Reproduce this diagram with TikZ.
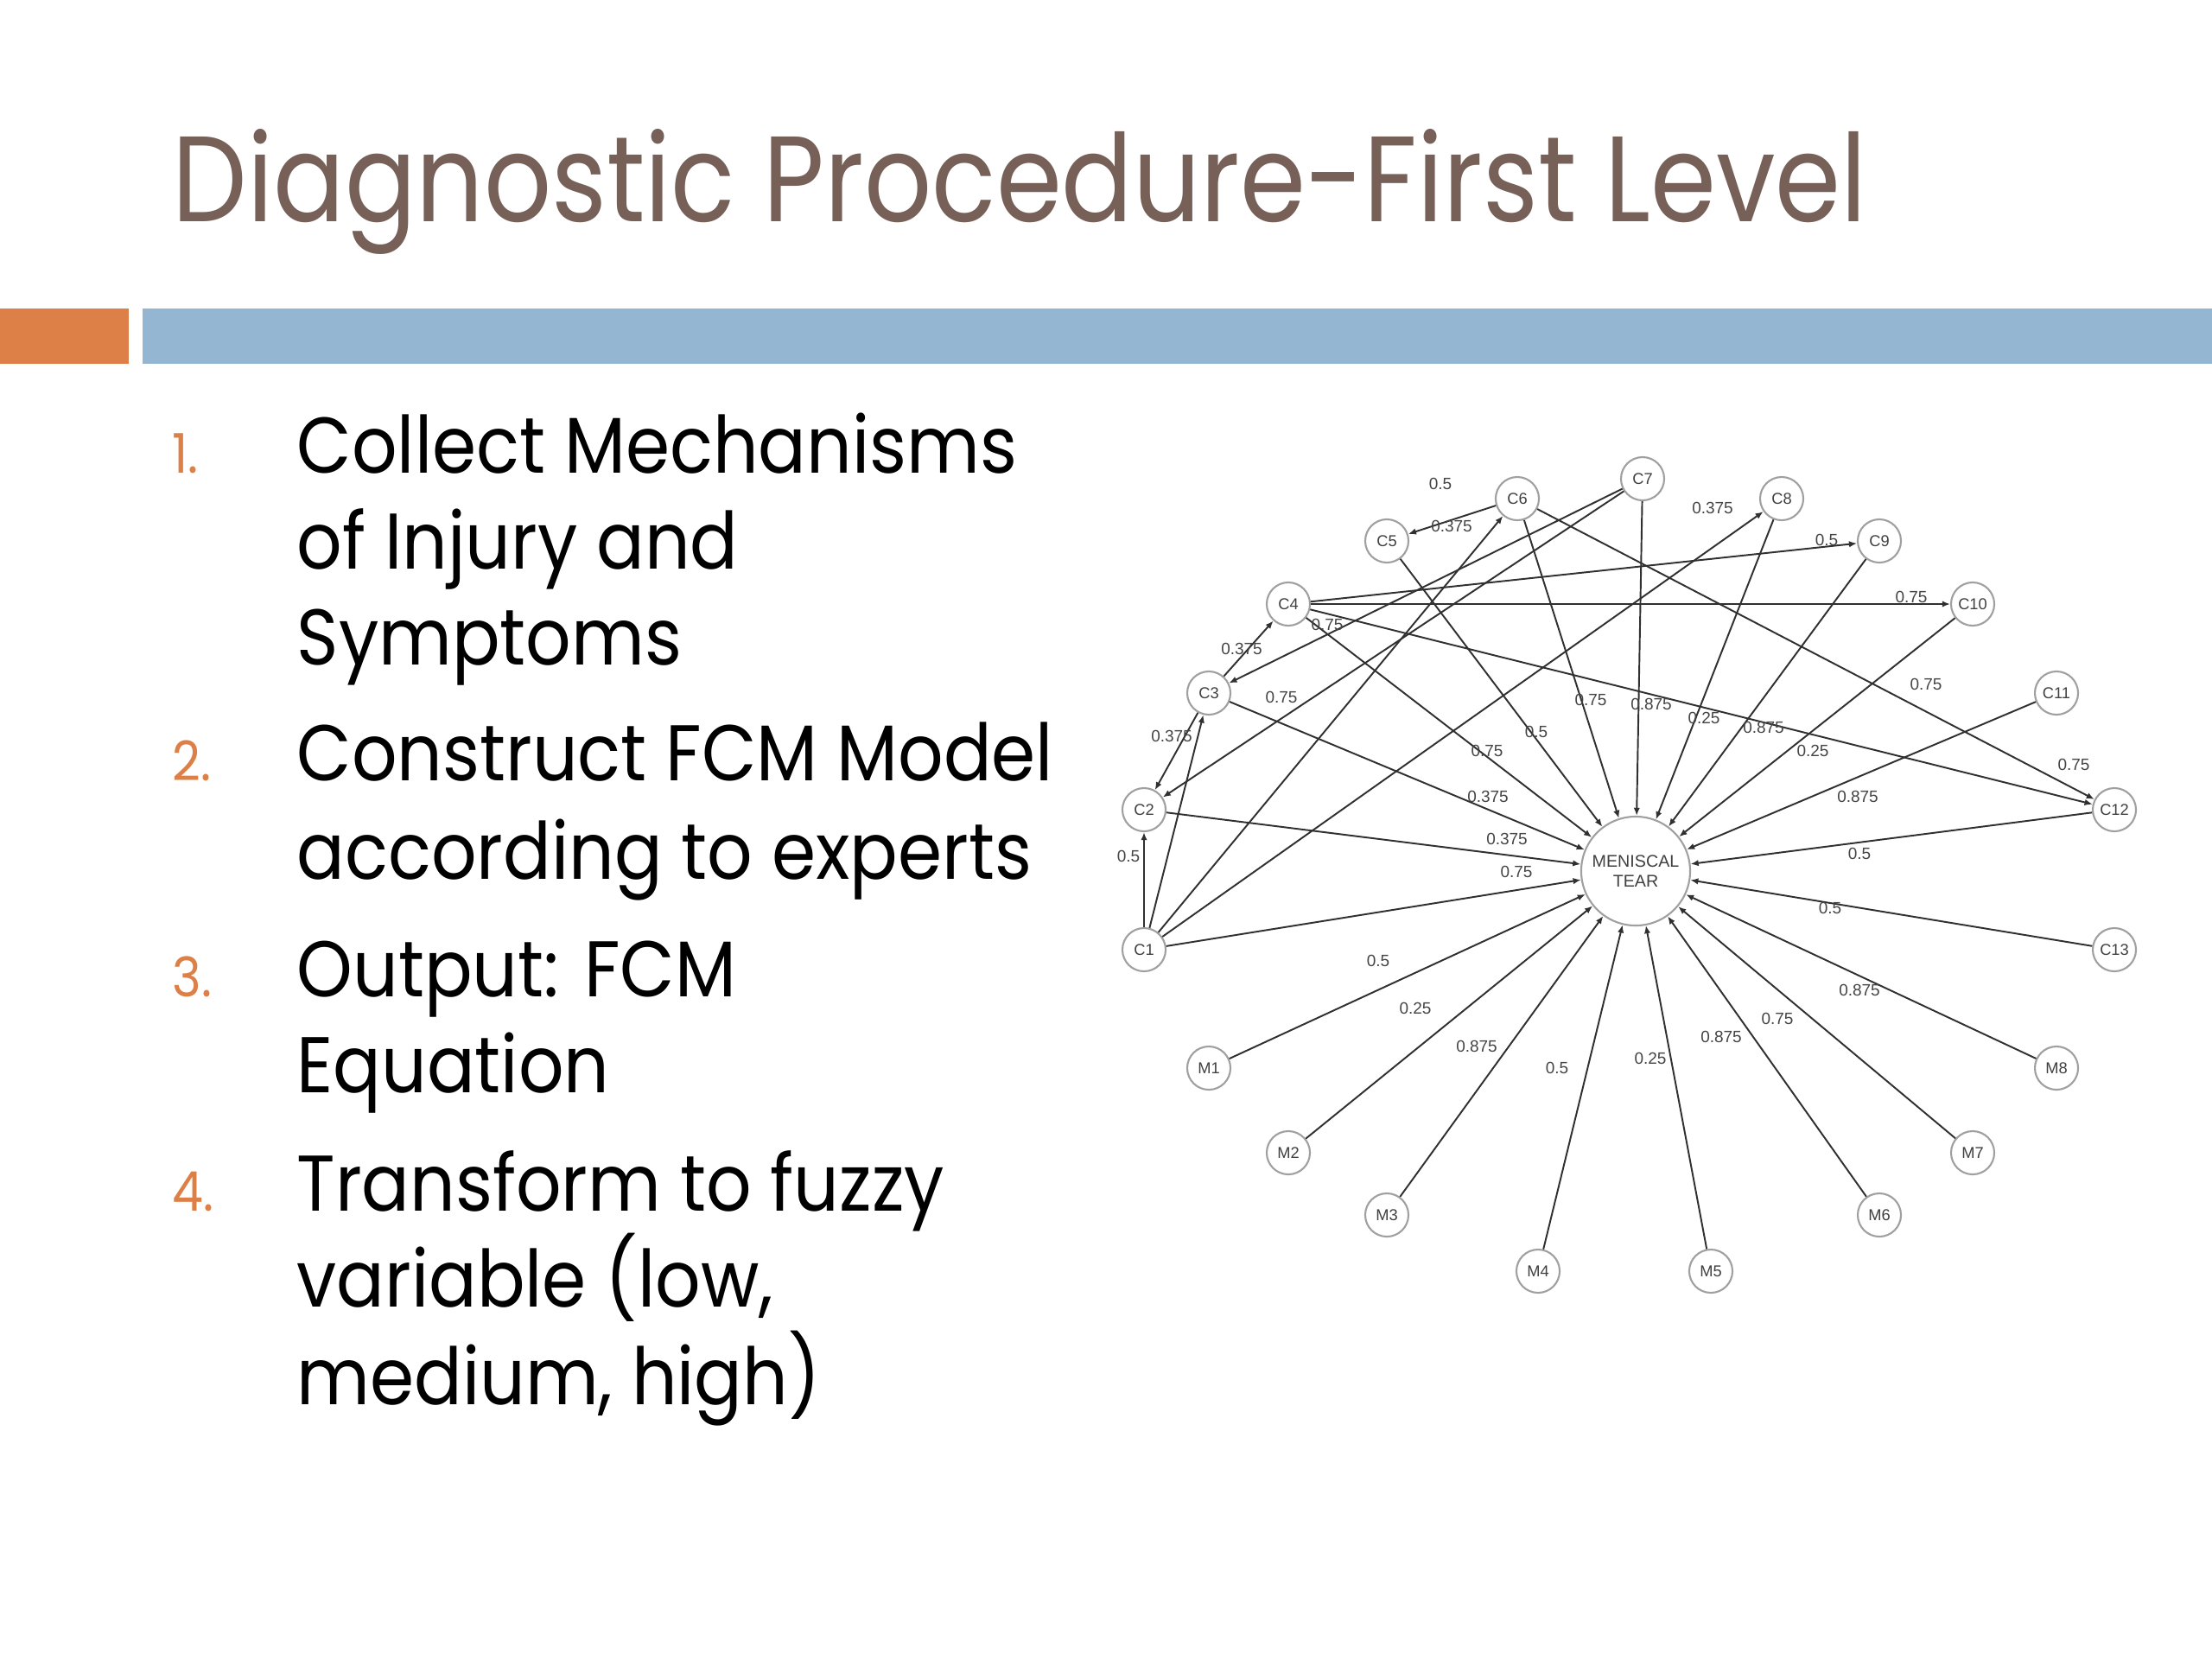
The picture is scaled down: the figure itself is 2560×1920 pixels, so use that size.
\documentclass[tikz,border=0pt]{standalone}
\usepackage{fontspec}
\setmainfont{Poppins}
\newfontfamily\gfont{Liberation Sans}
\newfontfamily\titlefont[FakeStretch=0.87]{Poppins}
\newfontfamily\listfont[FakeStretch=0.9]{Poppins}
\usetikzlibrary{arrows.meta}
\definecolor{titlebrown}{HTML}{766057}
\definecolor{accorange}{HTML}{DD8047}
\definecolor{accblue}{HTML}{94B6D2}
\definecolor{nodegray}{HTML}{A0A0A0}
\definecolor{edgecol}{HTML}{303030}
\definecolor{lblgray}{HTML}{454545}
\tikzset{
  cnode/.style={circle, draw=nodegray, fill=white, line width=0.6pt, minimum size=0.5cm, inner sep=0pt,
    font=\gfont\fontsize{5.2}{6}\selectfont, text=black!75},
  mtnode/.style={circle, draw=nodegray, fill=white, line width=0.6pt, minimum size=1.26cm, inner sep=0pt,
    align=center, font=\gfont\fontsize{5.6}{6.4}\selectfont, text=black!75},
  lbl/.style={font=\gfont\fontsize{5.4}{6}\selectfont, text=lblgray, inner sep=0pt},
  conn/.style={draw=edgecol, line width=0.55pt, -{Latex[length=2.6pt,width=2.1pt]}},
  listtxt/.style={anchor=base west, inner sep=0pt, font=\listfont\fontsize{26}{30}\selectfont, text=black},
  numtxt/.style={anchor=base west, inner sep=0pt, font=\listfont\fontsize{18}{22}\selectfont, text=accorange},
  titletxt/.style={anchor=base west, inner sep=0pt, font=\titlefont\fontsize{40}{46}\selectfont, text=titlebrown}
}
\begin{document}
\begin{tikzpicture}[x=0.01cm,y=-0.01cm]
\useasboundingbox (0,0) rectangle (2560,1920);
\fill[white] (0,0) rectangle (2560,1920);
% title and bars
\node[titletxt] (title) at (199,256) {Diagnostic Procedure-First Level};
\fill[accorange] (0,357) rectangle (149,421);
\fill[accblue] (165,357) rectangle (2560,421);
% list
\node[numtxt] (n1) at (199,547) {1.};
\node[listtxt] (t1a) at (343,547) {Collect Mechanisms};
\node[listtxt] (t1b) at (343,658) {of Injury and};
\node[listtxt] (t1c) at (343,769) {Symptoms};
\node[numtxt] (n2) at (199,903) {2.};
\node[listtxt] (t2a) at (343,903) {Construct FCM Model};
\node[listtxt] (t2b) at (343,1017) {according to experts};
\node[numtxt] (n3) at (199,1153) {3.};
\node[listtxt] (t3a) at (343,1153) {Output: FCM};
\node[listtxt] (t3b) at (343,1264) {Equation};
\node[numtxt] (n4) at (199,1401) {4.};
\node[listtxt] (t4a) at (343,1401) {Transform to fuzzy};
\node[listtxt] (t4b) at (343,1512) {variable (low,};
\node[listtxt] (t4c) at (343,1625) {medium, high)};
% graph nodes
\node[mtnode] (MT) at (1893,1008) {MENISCAL\\TEAR};
\node[cnode] (C1) at (1324,1099) {C1};
\node[cnode] (C2) at (1324,937) {C2};
\node[cnode] (C3) at (1399,802) {C3};
\node[cnode] (C4) at (1491,699) {C4};
\node[cnode] (C5) at (1605,626) {C5};
\node[cnode] (C6) at (1756,577) {C6};
\node[cnode] (C7) at (1901,554) {C7};
\node[cnode] (C8) at (2062,577) {C8};
\node[cnode] (C9) at (2175,626) {C9};
\node[cnode] (C10) at (2283,699) {C10};
\node[cnode] (C11) at (2380,802) {C11};
\node[cnode] (C12) at (2447,937) {C12};
\node[cnode] (C13) at (2447,1099) {C13};
\node[cnode] (M1) at (1399,1236) {M1};
\node[cnode] (M2) at (1491,1334) {M2};
\node[cnode] (M3) at (1605,1406) {M3};
\node[cnode] (M4) at (1780,1471) {M4};
\node[cnode] (M5) at (1980,1471) {M5};
\node[cnode] (M6) at (2175,1406) {M6};
\node[cnode] (M7) at (2283,1334) {M7};
\node[cnode] (M8) at (2380,1236) {M8};
% edges into MT
\foreach \s in {C1,C2,C3,C4,C5,C6,C7,C8,C9,C10,C11,C12,C13,M1,M2,M3,M4,M5,M6,M7,M8}
  \draw[conn] (\s) -- (MT);
% edges between concepts
\draw[conn] (C1) -- (C2);
\draw[conn] (C1) -- (C3);
\draw[conn] (C3) -- (C2);
\draw[conn] (C3) -- (C4);
\draw[conn] (C7) -- (C3);
\draw[conn] (C7) -- (C2);
\draw[conn] (C1) -- (C6);
\draw[conn] (C1) -- (C8);
\draw[conn] (C6) -- (C5);
\draw[conn] (C4) -- (C9);
\draw[conn] (C4) -- (C10);
\draw[conn] (C4) -- (C12);
\draw[conn] (C6) -- (C12);
% weight labels
\node[lbl] (w1) at (1667,560) {0.5};
\node[lbl] (w2) at (1680,609) {0.375};
\node[lbl] (w3) at (1982,588) {0.375};
\node[lbl] (w4) at (2114,625) {0.5};
\node[lbl] (w5) at (2212,691) {0.75};
\node[lbl] (w6) at (1536,723) {0.75};
\node[lbl] (w7) at (1437,751) {0.375};
\node[lbl] (w8) at (1483,807) {0.75};
\node[lbl] (w9) at (1356,852) {0.375};
\node[lbl] (w10) at (1306,991) {0.5};
\node[lbl] (w11) at (2229,792) {0.75};
\node[lbl] (w12) at (2400,885) {0.75};
\node[lbl] (w13) at (1721,869) {0.75};
\node[lbl] (w14) at (1778,847) {0.5};
\node[lbl] (w15) at (1841,810) {0.75};
\node[lbl] (w16) at (1911,815) {0.875};
\node[lbl] (w17) at (1972,831) {0.25};
\node[lbl] (w18) at (2041,842) {0.875};
\node[lbl] (w19) at (2098,869) {0.25};
\node[lbl] (w20) at (2150,922) {0.875};
\node[lbl] (w21) at (2152,988) {0.5};
\node[lbl] (w22) at (2118,1051) {0.5};
\node[lbl] (w23) at (1722,922) {0.375};
\node[lbl] (w24) at (1744,971) {0.375};
\node[lbl] (w25) at (1755,1009) {0.75};
\node[lbl] (w26) at (1595,1112) {0.5};
\node[lbl] (w27) at (1638,1167) {0.25};
\node[lbl] (w28) at (1709,1211) {0.875};
\node[lbl] (w29) at (1802,1236) {0.5};
\node[lbl] (w30) at (1910,1225) {0.25};
\node[lbl] (w31) at (1992,1200) {0.875};
\node[lbl] (w32) at (2057,1179) {0.75};
\node[lbl] (w33) at (2152,1146) {0.875};
\end{tikzpicture}
\end{document}
